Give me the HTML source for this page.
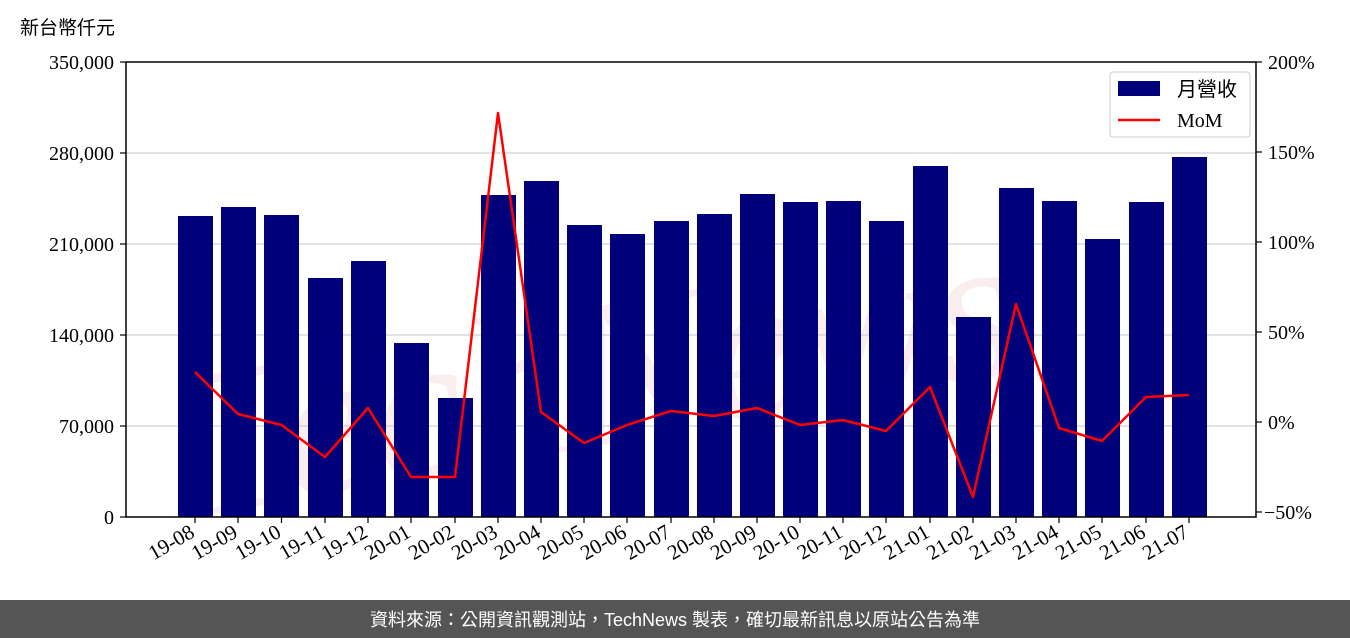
<!DOCTYPE html>
<html><head><meta charset="utf-8"><style>
html,body{margin:0;padding:0;background:#fff;}
svg{display:block;}
text{font-family:"Liberation Serif","Noto Serif CJK SC",serif;}
</style></head><body>
<svg width="1350" height="638" xmlns="http://www.w3.org/2000/svg">
<rect width="1350" height="638" fill="#fff"/>
<text x="20" y="34" font-size="19" style="font-family:'Liberation Sans','Noto Sans CJK TC',sans-serif">新台幣仟元</text>
<!-- watermark -->
<text x="170" y="430" font-size="210" fill="#faeded" font-style="italic" transform="rotate(-10 680 330)">TechNews</text>
<!-- grid -->
<g stroke="#d0d0d0" stroke-width="1.2">
<line x1="126" y1="153" x2="1256" y2="153"/>
<line x1="126" y1="244" x2="1256" y2="244"/>
<line x1="126" y1="335" x2="1256" y2="335"/>
<line x1="126" y1="426" x2="1256" y2="426"/>
</g>
<g fill="#00007a">
<rect x="178" y="216" width="35" height="301"/>
<rect x="221" y="207" width="35" height="310"/>
<rect x="264" y="215" width="35" height="302"/>
<rect x="308" y="278" width="35" height="239"/>
<rect x="351" y="261" width="35" height="256"/>
<rect x="394" y="343" width="35" height="174"/>
<rect x="438" y="398" width="35" height="119"/>
<rect x="481" y="195" width="35" height="322"/>
<rect x="524" y="181" width="35" height="336"/>
<rect x="567" y="225" width="35" height="292"/>
<rect x="610" y="234" width="35" height="283"/>
<rect x="654" y="221" width="35" height="296"/>
<rect x="697" y="214" width="35" height="303"/>
<rect x="740" y="194" width="35" height="323"/>
<rect x="783" y="202" width="35" height="315"/>
<rect x="826" y="201" width="35" height="316"/>
<rect x="869" y="221" width="35" height="296"/>
<rect x="913" y="166" width="35" height="351"/>
<rect x="956" y="317" width="35" height="200"/>
<rect x="999" y="188" width="35" height="329"/>
<rect x="1042" y="201" width="35" height="316"/>
<rect x="1085" y="239" width="35" height="278"/>
<rect x="1129" y="202" width="35" height="315"/>
<rect x="1172" y="157" width="35" height="360"/>
</g>
<polyline fill="none" stroke="#ff0000" stroke-width="2.5" stroke-linejoin="round" points="195,372 238,414 281.5,425 325,457 368,408 411,477 455,477 498,113 541,412 584,443 627,425 671,411 714,416 757,408 800,425 843,420 886,431 930,387 973,497 1016,304 1059,428 1102,441 1146,397 1189,395"/>
<rect x="126" y="62" width="1130" height="455" fill="none" stroke="#000" stroke-width="1.5"/>
<g stroke="#000" stroke-width="1.2">
<line x1="120" y1="62" x2="126" y2="62"/><line x1="120" y1="153" x2="126" y2="153"/><line x1="120" y1="244" x2="126" y2="244"/><line x1="120" y1="335" x2="126" y2="335"/><line x1="120" y1="426" x2="126" y2="426"/><line x1="120" y1="517" x2="126" y2="517"/>
<line x1="1256" y1="62" x2="1262" y2="62"/><line x1="1256" y1="152" x2="1262" y2="152"/><line x1="1256" y1="242" x2="1262" y2="242"/><line x1="1256" y1="332" x2="1262" y2="332"/><line x1="1256" y1="422" x2="1262" y2="422"/><line x1="1256" y1="512" x2="1262" y2="512"/>
</g>
<g font-size="20" text-anchor="end">
<text x="114" y="69">350,000</text><text x="114" y="160">280,000</text><text x="114" y="251">210,000</text><text x="114" y="342">140,000</text><text x="114" y="433">70,000</text><text x="114" y="524">0</text>
</g>
<g font-size="20">
<text x="1268" y="69">200%</text><text x="1268" y="159">150%</text><text x="1268" y="249">100%</text><text x="1268" y="339">50%</text><text x="1268" y="429">0%</text><text x="1264" y="519">−50%</text>
</g>
<g stroke="#000" stroke-width="1.2">
<line x1="195" y1="517" x2="195" y2="523"/><line x1="238" y1="517" x2="238" y2="523"/><line x1="281.5" y1="517" x2="281.5" y2="523"/><line x1="325" y1="517" x2="325" y2="523"/><line x1="368" y1="517" x2="368" y2="523"/><line x1="411" y1="517" x2="411" y2="523"/><line x1="455" y1="517" x2="455" y2="523"/><line x1="498" y1="517" x2="498" y2="523"/><line x1="541" y1="517" x2="541" y2="523"/><line x1="584" y1="517" x2="584" y2="523"/><line x1="627" y1="517" x2="627" y2="523"/><line x1="671" y1="517" x2="671" y2="523"/><line x1="714" y1="517" x2="714" y2="523"/><line x1="757" y1="517" x2="757" y2="523"/><line x1="800" y1="517" x2="800" y2="523"/><line x1="843" y1="517" x2="843" y2="523"/><line x1="886" y1="517" x2="886" y2="523"/><line x1="930" y1="517" x2="930" y2="523"/><line x1="973" y1="517" x2="973" y2="523"/><line x1="1016" y1="517" x2="1016" y2="523"/><line x1="1059" y1="517" x2="1059" y2="523"/><line x1="1102" y1="517" x2="1102" y2="523"/><line x1="1146" y1="517" x2="1146" y2="523"/><line x1="1189" y1="517" x2="1189" y2="523"/>
</g>
<g font-size="21" text-anchor="end">
<text transform="translate(196,536) rotate(-30)">19-08</text>
<text transform="translate(239,536) rotate(-30)">19-09</text>
<text transform="translate(282.5,536) rotate(-30)">19-10</text>
<text transform="translate(326,536) rotate(-30)">19-11</text>
<text transform="translate(369,536) rotate(-30)">19-12</text>
<text transform="translate(412,536) rotate(-30)">20-01</text>
<text transform="translate(456,536) rotate(-30)">20-02</text>
<text transform="translate(499,536) rotate(-30)">20-03</text>
<text transform="translate(542,536) rotate(-30)">20-04</text>
<text transform="translate(585,536) rotate(-30)">20-05</text>
<text transform="translate(628,536) rotate(-30)">20-06</text>
<text transform="translate(672,536) rotate(-30)">20-07</text>
<text transform="translate(715,536) rotate(-30)">20-08</text>
<text transform="translate(758,536) rotate(-30)">20-09</text>
<text transform="translate(801,536) rotate(-30)">20-10</text>
<text transform="translate(844,536) rotate(-30)">20-11</text>
<text transform="translate(887,536) rotate(-30)">20-12</text>
<text transform="translate(931,536) rotate(-30)">21-01</text>
<text transform="translate(974,536) rotate(-30)">21-02</text>
<text transform="translate(1017,536) rotate(-30)">21-03</text>
<text transform="translate(1060,536) rotate(-30)">21-04</text>
<text transform="translate(1103,536) rotate(-30)">21-05</text>
<text transform="translate(1147,536) rotate(-30)">21-06</text>
<text transform="translate(1190,536) rotate(-30)">21-07</text>
</g>
<rect x="1110" y="72" width="140" height="65" rx="3" fill="#fff" fill-opacity="0.85" stroke="#ccc"/>
<rect x="1118" y="81" width="42" height="15" fill="#00007a"/>
<text x="1177" y="96" font-size="20" style="font-family:'Liberation Sans','Noto Sans CJK TC',sans-serif">月營收</text>
<line x1="1118" y1="120" x2="1160" y2="120" stroke="#ff0000" stroke-width="2.5"/>
<text x="1177" y="127" font-size="20">MoM</text>
<rect x="0" y="600" width="1350" height="38" fill="#555"/>
<text x="675" y="626" font-size="18" fill="#fff" text-anchor="middle" style="font-family:'Liberation Sans','Noto Sans CJK TC',sans-serif">資料來源：公開資訊觀測站，TechNews 製表，確切最新訊息以原站公告為準</text>
</svg>
</body></html>
